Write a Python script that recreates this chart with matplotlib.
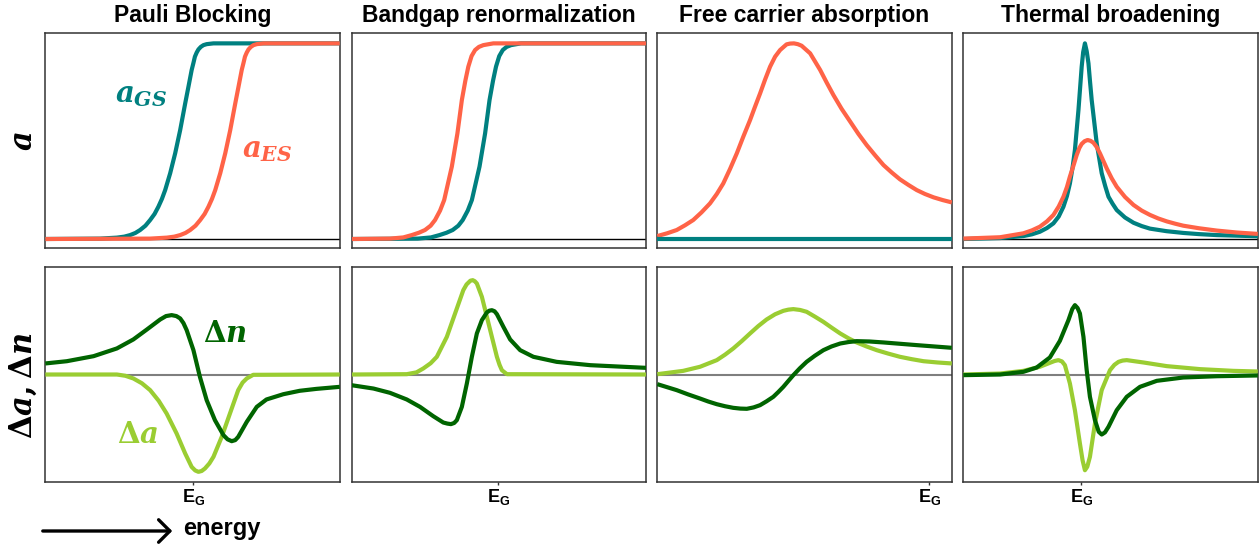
import matplotlib
matplotlib.use("Agg")
import matplotlib.pyplot as plt

# ---------------- data (x = fraction of the energy window) ----------------
titles = ["Pauli Blocking", "Bandgap renormalization",
          "Free carrier absorption", "Thermal broadening"]
eg_pos = [0.502, 0.498, 0.924, 0.400]
eg_label = r"$\mathsf{E_G}$"

# Pauli blocking - absorption
pb_x_gs = [0.0, 0.186, 0.243, 0.268, 0.288, 0.306, 0.322, 0.340, 0.356, 0.371, 0.384,
           0.396, 0.407, 0.424, 0.441, 0.458, 0.475, 0.486, 0.497, 0.503, 0.508,
           0.514, 0.520, 0.528, 0.537, 0.548, 0.571, 1.0]
pb_a_gs = [0.0, 0.002, 0.007, 0.012, 0.020, 0.031, 0.046, 0.068, 0.097, 0.128, 0.165,
           0.205, 0.250, 0.336, 0.438, 0.557, 0.693, 0.778, 0.864, 0.900, 0.932,
           0.953, 0.969, 0.982, 0.991, 0.996, 1.0, 1.0]
pb_x_es = [0.0, 0.356, 0.413, 0.438, 0.458, 0.476, 0.492, 0.510, 0.526, 0.541, 0.554,
           0.566, 0.577, 0.594, 0.611, 0.628, 0.645, 0.656, 0.667, 0.673, 0.678,
           0.684, 0.690, 0.698, 0.707, 0.718, 0.741, 1.0]
pb_a_es = [0.0, 0.002, 0.007, 0.012, 0.020, 0.031, 0.046, 0.068, 0.097, 0.128, 0.165,
           0.205, 0.250, 0.336, 0.438, 0.557, 0.693, 0.778, 0.864, 0.900, 0.932,
           0.953, 0.969, 0.982, 0.991, 0.996, 1.0, 1.0]
# Pauli blocking - changes
pb_x_da = [0.0, 0.243, 0.272, 0.299, 0.328, 0.356, 0.385, 0.412, 0.446, 0.475, 0.497,
           0.509, 0.520, 0.531, 0.542, 0.557, 0.571, 0.599, 0.627, 0.655, 0.670,
           0.684, 0.706, 1.0]
pb_da = [0.0, 0.0, -0.012, -0.037, -0.082, -0.146, -0.245, -0.364, -0.551, -0.737, -0.862,
         -0.895, -0.908, -0.900, -0.877, -0.830, -0.768, -0.582, -0.364, -0.146, -0.075,
         -0.037, -0.003, 0.0]
pb_x_dn = [0.0, 0.073, 0.164, 0.243, 0.299, 0.345, 0.390, 0.410, 0.429, 0.445, 0.458,
           0.469, 0.480, 0.503, 0.525, 0.548, 0.576, 0.605, 0.619, 0.633, 0.645,
           0.655, 0.684, 0.718, 0.751, 0.808, 0.864, 0.921, 1.0]
pb_dn = [0.103, 0.124, 0.171, 0.243, 0.327, 0.420, 0.513, 0.545, 0.554, 0.545, 0.523,
         0.480, 0.414, 0.227, -0.022, -0.240, -0.426, -0.566, -0.605, -0.622, -0.612,
         -0.582, -0.442, -0.302, -0.233, -0.184, -0.152, -0.134, -0.115]

# Bandgap renormalization - absorption
bgr_x_es = [0.0, 0.130, 0.175, 0.204, 0.228, 0.249, 0.268, 0.283, 0.300, 0.314, 0.340,
            0.359, 0.374, 0.386, 0.396, 0.407, 0.419, 0.432, 0.447, 0.481, 1.0]
bgr_a_es = [0.0, 0.002, 0.008, 0.020, 0.032, 0.046, 0.068, 0.097, 0.145, 0.199, 0.370,
            0.540, 0.710, 0.810, 0.881, 0.935, 0.966, 0.982, 0.991, 1.0, 1.0]
bgr_x_gs = [0.0, 0.224, 0.269, 0.298, 0.322, 0.343, 0.362, 0.377, 0.394, 0.408, 0.434,
            0.453, 0.468, 0.480, 0.490, 0.501, 0.513, 0.526, 0.541, 0.575, 1.0]
bgr_a_gs = [0.0, 0.002, 0.008, 0.020, 0.032, 0.046, 0.068, 0.097, 0.145, 0.199, 0.370,
            0.540, 0.710, 0.810, 0.881, 0.935, 0.966, 0.982, 0.991, 1.0, 1.0]
# Bandgap renormalization - changes
bgr_x_da = [0.0, 0.187, 0.220, 0.243, 0.268, 0.289, 0.323, 0.351, 0.379, 0.390, 0.403,
            0.411, 0.418, 0.425, 0.442, 0.459, 0.476, 0.493, 0.502, 0.510, 0.527, 1.0]
bgr_da = [0.0, 0.003, 0.020, 0.056, 0.105, 0.165, 0.351, 0.569, 0.787, 0.840, 0.875,
          0.880, 0.870, 0.849, 0.725, 0.538, 0.351, 0.165, 0.090, 0.040, 0.003, 0.0]
bgr_x_dn = [0.0, 0.074, 0.130, 0.187, 0.232, 0.277, 0.311, 0.325, 0.337, 0.348, 0.357,
            0.374, 0.391, 0.408, 0.425, 0.442, 0.459, 0.467, 0.476, 0.485, 0.493,
            0.515, 0.538, 0.572, 0.617, 0.696, 0.810, 0.923, 1.0]
bgr_dn = [-0.100, -0.131, -0.171, -0.233, -0.302, -0.389, -0.448, -0.458, -0.463, -0.452, -0.426,
          -0.302, -0.084, 0.165, 0.383, 0.507, 0.579, 0.595, 0.600, 0.590, 0.563,
          0.445, 0.327, 0.227, 0.165, 0.118, 0.087, 0.072, 0.062]

# Free carrier absorption - absorption
fca_x_gs = [0.0, 1.0]
fca_a_gs = [0.0, 0.0]
fca_x_es = [0.0, 0.033, 0.066, 0.094, 0.122, 0.150, 0.179, 0.202, 0.224, 0.247,
            0.270, 0.292, 0.315, 0.332, 0.349, 0.366, 0.383, 0.400, 0.417, 0.439,
            0.451, 0.464, 0.477, 0.490, 0.519, 0.553, 0.575, 0.598, 0.626, 0.655,
            0.683, 0.711, 0.740, 0.768, 0.796, 0.824, 0.853, 0.881, 0.909, 0.938,
            0.969, 1.0]
fca_a_es = [0.015, 0.029, 0.046, 0.070, 0.097, 0.136, 0.182, 0.230, 0.284, 0.358,
            0.438, 0.523, 0.608, 0.677, 0.744, 0.815, 0.881, 0.932, 0.966, 0.995,
            0.999, 1.0, 0.996, 0.988, 0.949, 0.864, 0.800, 0.736, 0.665, 0.600,
            0.537, 0.480, 0.427, 0.378, 0.340, 0.305, 0.276, 0.250, 0.230, 0.213,
            0.199, 0.187]
# Free carrier absorption - changes
fca_x_da = [0.0, 0.088, 0.145, 0.202, 0.230, 0.258, 0.287, 0.315, 0.343, 0.371,
            0.400, 0.428, 0.445, 0.462, 0.485, 0.507, 0.535, 0.564, 0.592, 0.621,
            0.649, 0.677, 0.711, 0.745, 0.784, 0.824, 0.864, 0.904, 0.952, 1.0]
fca_da = [0.003, 0.034, 0.072, 0.134, 0.185, 0.243, 0.312, 0.383, 0.452, 0.513,
          0.562, 0.594, 0.605, 0.610, 0.602, 0.585, 0.540, 0.491, 0.437, 0.383,
          0.338, 0.299, 0.261, 0.227, 0.195, 0.165, 0.143, 0.124, 0.112, 0.103]
fca_x_dn = [0.0, 0.066, 0.105, 0.145, 0.173, 0.202, 0.230, 0.258, 0.282, 0.304,
            0.327, 0.349, 0.371, 0.394, 0.411, 0.428, 0.445, 0.462, 0.484, 0.507,
            0.535, 0.564, 0.592, 0.621, 0.650, 0.677, 0.720, 0.768, 0.881, 1.0]
fca_dn = [-0.090, -0.146, -0.186, -0.224, -0.252, -0.277, -0.296, -0.311, -0.318, -0.320,
          -0.307, -0.286, -0.250, -0.208, -0.163, -0.115, -0.060, -0.006, 0.058, 0.118,
          0.175, 0.227, 0.262, 0.289, 0.303, 0.311, 0.308, 0.299, 0.274, 0.249]

# Thermal broadening - absorption
tb_x_gs = [0.0, 0.125, 0.204, 0.233, 0.260, 0.284, 0.306, 0.324, 0.340, 0.352,
           0.362, 0.371, 0.379, 0.391, 0.397, 0.402, 0.407, 0.413, 0.419, 0.425,
           0.430, 0.436, 0.453, 0.470, 0.482, 0.493, 0.507, 0.521, 0.549, 0.578,
           0.606, 0.634, 0.690, 0.747, 0.800, 0.861, 0.930, 1.0]
tb_a_gs = [0.0, 0.005, 0.015, 0.024, 0.037, 0.056, 0.080, 0.115, 0.165, 0.220,
           0.284, 0.365, 0.455, 0.659, 0.780, 0.881, 0.955, 1.0, 0.960, 0.898,
           0.810, 0.710, 0.489, 0.336, 0.270, 0.216, 0.180, 0.148, 0.110, 0.083,
           0.066, 0.053, 0.040, 0.031, 0.025, 0.020, 0.017, 0.014]
tb_x_es = [0.0, 0.125, 0.204, 0.233, 0.260, 0.284, 0.306, 0.324, 0.340, 0.352,
           0.362, 0.374, 0.385, 0.394, 0.402, 0.412, 0.422, 0.432, 0.442, 0.453,
           0.464, 0.487, 0.504, 0.521, 0.549, 0.578, 0.606, 0.634, 0.662, 0.691,
           0.720, 0.747, 0.800, 0.861, 0.930, 1.0]
tb_a_es = [0.002, 0.009, 0.029, 0.044, 0.063, 0.090, 0.123, 0.166, 0.216, 0.266,
           0.319, 0.375, 0.429, 0.465, 0.486, 0.500, 0.506, 0.502, 0.492, 0.470,
           0.438, 0.361, 0.310, 0.267, 0.215, 0.174, 0.145, 0.123, 0.105, 0.090,
           0.078, 0.068, 0.055, 0.043, 0.033, 0.026]
# Thermal broadening - changes
tb_x_da = [0.0, 0.125, 0.204, 0.260, 0.294, 0.310, 0.323, 0.335, 0.345, 0.362, 0.379,
           0.396, 0.405, 0.413, 0.421, 0.430, 0.447, 0.470, 0.498, 0.513, 0.527,
           0.541, 0.555, 0.612, 0.691, 0.804, 0.917, 1.0]
tb_da = [0.0, 0.009, 0.034, 0.072, 0.109, 0.126, 0.134, 0.122, 0.087, -0.084, -0.333,
         -0.644, -0.800, -0.893, -0.860, -0.768, -0.457, -0.146, 0.040, 0.090, 0.118,
         0.130, 0.134, 0.112, 0.078, 0.050, 0.034, 0.028]
tb_x_dn = [0.0, 0.125, 0.204, 0.249, 0.294, 0.328, 0.357, 0.370, 0.379, 0.388, 0.396,
           0.408, 0.419, 0.430, 0.447, 0.460, 0.470, 0.481, 0.493, 0.521, 0.555,
           0.600, 0.657, 0.747, 0.861, 1.0]
tb_dn = [-0.006, 0.0, 0.025, 0.065, 0.159, 0.314, 0.507, 0.610, 0.647, 0.620, 0.569,
         0.351, 0.040, -0.208, -0.426, -0.535, -0.560, -0.540, -0.488, -0.333, -0.208,
         -0.115, -0.059, -0.028, -0.016, -0.009]

# ---------------- style ----------------
C_GS = "#008080"
C_ES = "#ff6347"
C_DA = "#9acd32"
C_DN = "#006400"

plt.rcParams["font.family"] = ["Liberation Sans", "DejaVu Sans"]
plt.rcParams["mathtext.fontset"] = "custom"
plt.rcParams["mathtext.rm"] = "DejaVu Serif:bold"
plt.rcParams["mathtext.it"] = "DejaVu Serif:italic:bold"
plt.rcParams["mathtext.bf"] = "DejaVu Serif:bold"
plt.rcParams["mathtext.sf"] = "Liberation Sans:bold"

fig = plt.figure(figsize=(12.6, 5.46), dpi=100)

lefts = [45.3, 351.7, 657.3, 963.3]
W = 294.5
top_row = (248.0, 215.0)     # bottom px, height px
bot_row = (481.7, 214.4)

top_data = [
    [(pb_x_gs, pb_a_gs, C_GS), (pb_x_es, pb_a_es, C_ES)],
    [(bgr_x_gs, bgr_a_gs, C_GS), (bgr_x_es, bgr_a_es, C_ES)],
    [(fca_x_es, fca_a_es, C_ES), (fca_x_gs, fca_a_gs, C_GS)],
    [(tb_x_gs, tb_a_gs, C_GS), (tb_x_es, tb_a_es, C_ES)],
]
bot_data = [
    [(pb_x_da, pb_da, C_DA), (pb_x_dn, pb_dn, C_DN)],
    [(bgr_x_da, bgr_da, C_DA), (bgr_x_dn, bgr_dn, C_DN)],
    [(fca_x_da, fca_da, C_DA), (fca_x_dn, fca_dn, C_DN)],
    [(tb_x_da, tb_da, C_DA), (tb_x_dn, tb_dn, C_DN)],
]

def make_ax(left_px, row):
    b, h = row
    return fig.add_axes([left_px / 1260, 1 - b / 546, W / 1260, h / 546])

def style(ax):
    for s in ax.spines.values():
        s.set_color("#333333")
        s.set_linewidth(1.1)
    ax.set_yticks([])

axes_top, axes_bot = [], []
for i in range(4):
    ax = make_ax(lefts[i], top_row)
    ax.axhline(0, color="black", lw=1.0, zorder=1)
    for x, y, c in top_data[i]:
        ax.plot(x, y, color=c, lw=3.0, solid_joinstyle="round",
                solid_capstyle="butt", zorder=3)
    ax.set_xlim(0, 1)
    ax.set_ylim(-0.046, 1.053)
    ax.set_xticks([])
    style(ax)
    ax.set_title(titles[i], fontsize=16.5, fontweight="bold", pad=8)
    axes_top.append(ax)

    axb = make_ax(lefts[i], bot_row)
    axb.axhline(0, color="#7f7f7f", lw=1.5, zorder=1)
    for x, y, c in bot_data[i]:
        axb.plot(x, y, color=c, lw=3.0, solid_joinstyle="round",
                 solid_capstyle="butt", zorder=3)
    axb.set_xlim(0, 1)
    axb.set_ylim(-1.0, 1.0)
    axb.set_xticks([eg_pos[i]])
    axb.set_xticklabels([eg_label], fontsize=13)
    axb.tick_params(axis="x", length=2, width=1, pad=2, color="#333333")
    style(axb)
    axes_bot.append(axb)

# curve labels in the first column
axes_top[0].text(0.237, 0.697, r"$a_{GS}$", color=C_GS, fontsize=21,
                 ha="left", va="baseline")
axes_top[0].text(0.668, 0.42, r"$a_{ES}$", color=C_ES, fontsize=21,
                 ha="left", va="baseline")
axes_bot[0].text(0.536, 0.302, r"$\Delta n$", color=C_DN, fontsize=21,
                 ha="left", va="baseline")
axes_bot[0].text(0.244, -0.637, r"$\Delta a$", color=C_DA, fontsize=21,
                 ha="left", va="baseline")

# row labels
fig.text(24 / 1260, 1 - 141 / 546, r"$a$", fontsize=22, rotation=90,
         ha="center", va="center")
fig.text(23 / 1260, 1 - 386 / 546, r"$\Delta a, \Delta n$", fontsize=22,
         rotation=90, ha="center", va="center")

# energy arrow
fig.add_artist(matplotlib.patches.FancyArrowPatch(
    (40 / 1260, 1 - 531 / 546), (175 / 1260, 1 - 531 / 546),
    transform=fig.transFigure, arrowstyle="->,head_length=0.45,head_width=0.45",
    mutation_scale=18, lw=2.4, color="black"))
fig.text(183 / 1260, 1 - 535 / 546, "energy", fontsize=17, fontweight="bold",
         ha="left", va="baseline")

fig.savefig("out.png", dpi=100)
